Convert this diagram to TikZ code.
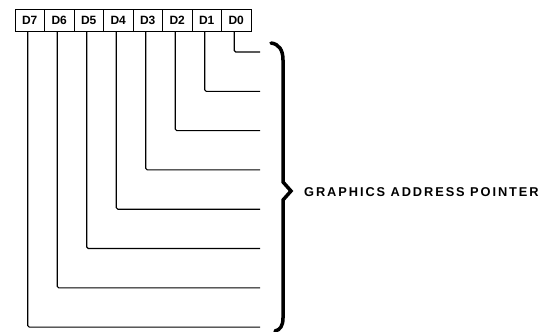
\documentclass[tikz,border=0pt]{standalone}
\usepackage{fontspec}
\setmainfont{Liberation Sans}
\begin{document}
\begin{tikzpicture}[x=1pt,y=-1pt,
  bitbox/.style={draw, line width=1pt, fill=white, minimum width=29.5pt, minimum height=22pt,
    inner sep=0pt, outer sep=0pt, font=\fontsize{12}{12}\selectfont\bfseries},
  wire/.style={line width=1.1pt, rounded corners=1.5pt},
  bracestyle/.style={line width=3.5pt, line cap=round, line join=miter},
  lbl/.style={anchor=west, inner sep=0pt, font=\fontsize{12.8}{14}\selectfont\bfseries\addfontfeature{LetterSpace=15}}]
\useasboundingbox (0,0) rectangle (555,332);
\foreach \i in {0,...,7} {
  \node[bitbox] (b\i) at ({29.75+29.5*(7-\i)},20) {D\i};
  \coordinate (e\i) at (260,{52+39.3*\i});
  \draw[wire] ([xshift=-2pt]b\i.south) |- (e\i);
}
\draw[bracestyle] (271,43) .. controls (279,44) and (283,50) .. (283,60) -- (283,182) -- (291,191) -- (283,200) -- (283,318) .. controls (283,326) and (280,330) .. (275,331);
\node[lbl] (label) at (304,192) {GRAPHICS ADDRESS POINTER};
\end{tikzpicture}
\end{document}
